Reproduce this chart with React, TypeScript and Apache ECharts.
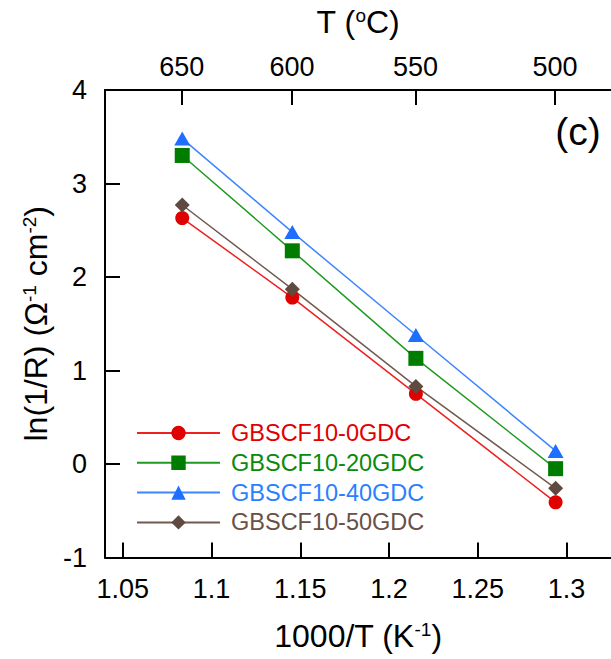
import React, { useEffect, useRef } from 'react';
import * as echarts from 'echarts';

const seriesNames = ['GBSCF10-0GDC', 'GBSCF10-20GDC', 'GBSCF10-40GDC', 'GBSCF10-50GDC'];
const invT = [1.0835, 1.1455, 1.2151, 1.2938];
const lnR_0GDC = [2.63, 1.78, 0.75, -0.41];
const lnR_20GDC = [3.3, 2.28, 1.13, -0.05];
const lnR_40GDC = [3.48, 2.48, 1.38, 0.14];
const lnR_50GDC = [2.77, 1.87, 0.83, -0.26];
const xTicks = [1.05, 1.1, 1.15, 1.2, 1.25, 1.3];
const tempTicksC = [650, 600, 550, 500];

const allValues = [lnR_0GDC, lnR_20GDC, lnR_40GDC, lnR_50GDC];
const symbols = ['circle', 'rect', 'triangle', 'diamond'];
const symbolSizes: any[] = [14, 15, [16, 14], 15];
const markerColors = ['#e00000', '#007d00', '#1e6eff', '#5f4a40'];
const lineColors = ['#ee2020', '#1f9a1f', '#3d85ff', '#705a50'];
const textColors = ['#e00000', '#0a8a0a', '#2a7fff', '#6a5045'];

const FONT = '"Liberation Sans", Arial, sans-serif';

export default function App() {
  const ref = useRef<HTMLDivElement>(null);
  useEffect(() => {
    if (!ref.current) return;
    const chart = echarts.init(ref.current, null, { renderer: 'svg' });
    const topTicks = tempTicksC.map((t) => 1000 / (t + 273.15));
    const supRich = {
      a: { fontSize: 32, fontFamily: FONT, color: '#000' },
      s: { fontSize: 19, fontFamily: FONT, color: '#000', verticalAlign: 'top' },
    };
    chart.setOption({
      animation: false,
      backgroundColor: '#fff',
      textStyle: { fontFamily: FONT },
      grid: { left: 105, top: 90, right: 0, bottom: 101.5, containLabel: false, outerBoundsMode: 'none' },
      xAxis: [
        {
          type: 'value',
          position: 'bottom',
          min: 1.04,
          max: 1.325,
          splitLine: { show: false },
          axisLine: { show: true, onZero: false, lineStyle: { color: '#000', width: 2 } },
          axisTick: { show: true, inside: true, length: 15, customValues: xTicks, lineStyle: { color: '#000', width: 2 } },
          axisLabel: {
            customValues: xTicks,
            fontSize: 27,
            color: '#000',
            fontFamily: FONT,
            margin: 18,
            formatter: (v: number) => String(+v.toFixed(2)),
          },
          name: '{a|1000/T (K}{s|-1}{a|)}',
          nameLocation: 'middle',
          nameGap: 62,
          nameTextStyle: { rich: supRich },
        },
        {
          type: 'value',
          position: 'top',
          min: 1.04,
          max: 1.325,
          splitLine: { show: false },
          axisLine: { show: true, onZero: false, lineStyle: { color: '#000', width: 2 } },
          axisTick: { show: true, inside: true, length: 15, customValues: topTicks, lineStyle: { color: '#000', width: 2 } },
          axisLabel: {
            customValues: topTicks,
            fontSize: 27,
            color: '#000',
            fontFamily: FONT,
            margin: 10,
            formatter: (v: number) => String(Math.round(1000 / v - 273.15)),
          },
          name: '{a|T (}{s|o}{a|C)}',
          nameLocation: 'middle',
          nameGap: 52,
          nameTextStyle: { rich: supRich },
        },
      ],
      yAxis: {
        type: 'value',
        min: -1,
        max: 4,
        interval: 1,
        splitLine: { show: false },
        axisLine: { show: true, onZero: false, lineStyle: { color: '#000', width: 2 } },
        axisTick: { show: true, inside: true, length: 15, lineStyle: { color: '#000', width: 2 } },
        axisLabel: { fontSize: 27, color: '#000', fontFamily: FONT, margin: 18 },
        name: '{a|ln(1/R) (Ω}{s|-1}{a| cm}{s|-2}{a|)}',
        nameLocation: 'middle',
        nameGap: 51,
        nameTextStyle: { rich: supRich },
      },
      legend: {
        orient: 'vertical',
        left: 136,
        top: 421,
        padding: 0,
        itemWidth: 83,
        itemHeight: 18,
        itemGap: 5.8,
        textStyle: { fontSize: 23.5, fontFamily: FONT, padding: [0, 0, 0, 6] },
        data: seriesNames.map((n, i) => ({ name: n, textStyle: { color: textColors[i] } })),
      },
      graphic: [
        {
          type: 'text',
          x: 578,
          y: 131,
          style: { text: '(c)', fontSize: 39, fontFamily: FONT, fill: '#000', align: 'center', verticalAlign: 'middle' },
        },
      ],
      series: seriesNames.map((n, i) => ({
        name: n,
        type: 'line',
        xAxisIndex: 0,
        data: invT.map((x, j) => [x, allValues[i][j]]),
        symbol: symbols[i],
        symbolSize: symbolSizes[i],
        showSymbol: true,
        lineStyle: { color: lineColors[i], width: 1.5 },
        itemStyle: { color: markerColors[i] },
      })),
    });
    return () => chart.dispose();
  }, []);
  return <div ref={ref} style={{ position: 'fixed', left: 0, top: 0, width: 611, height: 659 }} />;
}
